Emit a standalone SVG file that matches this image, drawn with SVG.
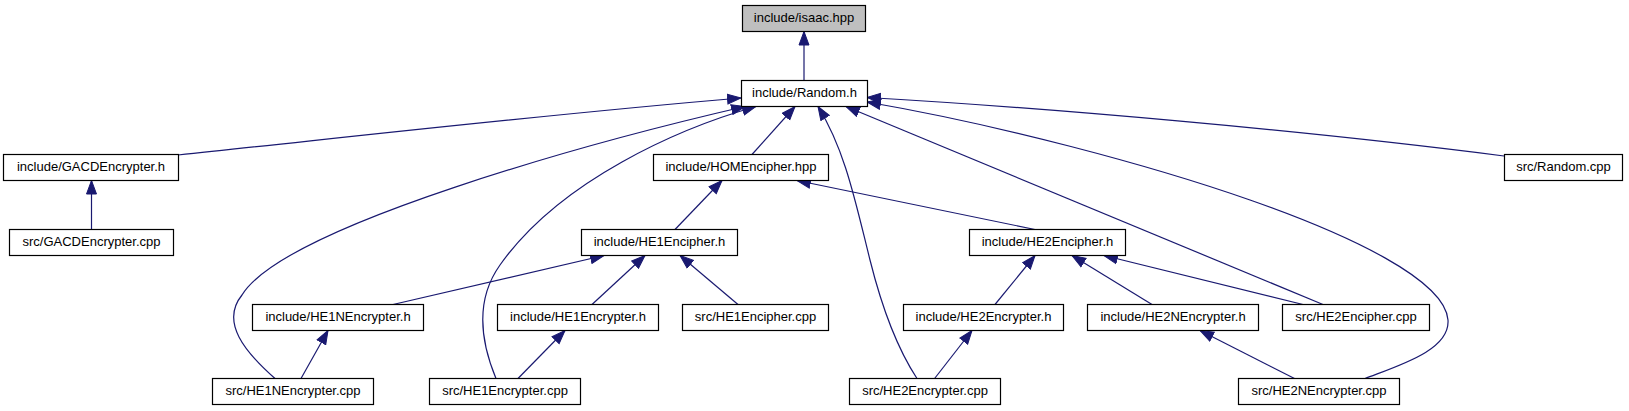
<svg xmlns="http://www.w3.org/2000/svg" width="1629" height="411" viewBox="0 0 1629 411">
<style>
.n rect{fill:#fff;stroke:#000;stroke-width:1.2}
.n.root rect{fill:#bfbfbf}
.n text{font-family:"Liberation Sans",Arial,sans-serif;font-size:13px;fill:#000;text-anchor:middle}
.e path{fill:none;stroke:#191970;stroke-width:1.2;marker-end:url(#ah)}
</style>
<defs>
<marker id="ah" markerUnits="userSpaceOnUse" markerWidth="15" markerHeight="12" viewBox="0 0 15 12" refX="14" refY="6" orient="auto">
<path d="M0.5,1 L14,6 L0.5,11 z" fill="#191970" stroke="#191970" stroke-width="1"/>
</marker>
</defs>
<rect width="1629" height="411" fill="#fff"/>
<g id="edges" class="e">
<path d="M804,80.5 L804,31.5"/>
<path d="M178,155 C350,137 550,114 741,98"/>
<path d="M91.5,229.5 L91.5,180.5"/>
<path d="M752,154.5 L795,106.5"/>
<path d="M275,378.5 C245,352 220,322 242,295 C285,225 600,140 745,106.5"/>
<path d="M496,378.5 C480,340 475,300 500,265 C560,180 680,128 756,106.5"/>
<path d="M917,378.5 C895,345 880,300 870,260 C855,200 845,150 818,106.5"/>
<path d="M1323,304.5 L846,106.5"/>
<path d="M1365,378.5 C1400,365 1450,350 1448,320 C1445,280 1350,235 1250,200 C1150,165 1000,125 867,102"/>
<path d="M1504,156 C1300,130 1050,108 867,97.5"/>
<path d="M675,229.5 L722,180.5"/>
<path d="M1035,229.5 L797,180.5"/>
<path d="M393,304.5 L604,255.5"/>
<path d="M592,304.5 L645,255.5"/>
<path d="M738,304.5 L680,255.5"/>
<path d="M995,304.5 L1035,255.5"/>
<path d="M1152,304.5 L1072,255.5"/>
<path d="M1303,304.5 L1104,255.5"/>
<path d="M301,378.5 L328,330.5"/>
<path d="M518,378.5 L565,330.5"/>
<path d="M934.6,378.5 L972,330.5"/>
<path d="M1294.5,378.5 L1200,330.5"/>
</g>
<g id="n_isaac" class="n root"><rect x="742.5" y="5.5" width="123" height="26"/><text x="804" y="21.5">include/isaac.hpp</text></g>
<g id="n_random_h" class="n"><rect x="741.5" y="80.5" width="126" height="26"/><text x="804.5" y="96.5">include/Random.h</text></g>
<g id="n_gacd_h" class="n"><rect x="3.5" y="154.5" width="175" height="26"/><text x="91" y="170.5">include/GACDEncrypter.h</text></g>
<g id="n_hom" class="n"><rect x="653.5" y="154.5" width="175" height="26"/><text x="741" y="170.5">include/HOMEncipher.hpp</text></g>
<g id="n_random_cpp" class="n"><rect x="1504.5" y="154.5" width="118" height="26"/><text x="1563.5" y="170.5">src/Random.cpp</text></g>
<g id="n_gacd_cpp" class="n"><rect x="9.5" y="229.5" width="164" height="26"/><text x="91.5" y="245.5">src/GACDEncrypter.cpp</text></g>
<g id="n_he1enc_h" class="n"><rect x="581.5" y="229.5" width="156" height="26"/><text x="659.5" y="245.5">include/HE1Encipher.h</text></g>
<g id="n_he2enc_h" class="n"><rect x="969.5" y="229.5" width="156" height="26"/><text x="1047.5" y="245.5">include/HE2Encipher.h</text></g>
<g id="n_he1nencr_h" class="n"><rect x="252.5" y="304.5" width="171" height="26"/><text x="338" y="320.5">include/HE1NEncrypter.h</text></g>
<g id="n_he1encr_h" class="n"><rect x="497.5" y="304.5" width="161" height="26"/><text x="578" y="320.5">include/HE1Encrypter.h</text></g>
<g id="n_he1enc_cpp" class="n"><rect x="682.5" y="304.5" width="146" height="26"/><text x="755.5" y="320.5">src/HE1Encipher.cpp</text></g>
<g id="n_he2encr_h" class="n"><rect x="903.5" y="304.5" width="160" height="26"/><text x="983.5" y="320.5">include/HE2Encrypter.h</text></g>
<g id="n_he2nencr_h" class="n"><rect x="1087.5" y="304.5" width="171" height="26"/><text x="1173" y="320.5">include/HE2NEncrypter.h</text></g>
<g id="n_he2enc_cpp" class="n"><rect x="1282.5" y="304.5" width="147" height="26"/><text x="1356" y="320.5">src/HE2Encipher.cpp</text></g>
<g id="n_he1nencr_cpp" class="n"><rect x="212.5" y="378.5" width="161" height="26"/><text x="293" y="394.5">src/HE1NEncrypter.cpp</text></g>
<g id="n_he1encr_cpp" class="n"><rect x="429.5" y="378.5" width="151" height="26"/><text x="505" y="394.5">src/HE1Encrypter.cpp</text></g>
<g id="n_he2encr_cpp" class="n"><rect x="849.5" y="378.5" width="151" height="26"/><text x="925" y="394.5">src/HE2Encrypter.cpp</text></g>
<g id="n_he2nencr_cpp" class="n"><rect x="1238.5" y="378.5" width="161" height="26"/><text x="1319" y="394.5">src/HE2NEncrypter.cpp</text></g>
</svg>
